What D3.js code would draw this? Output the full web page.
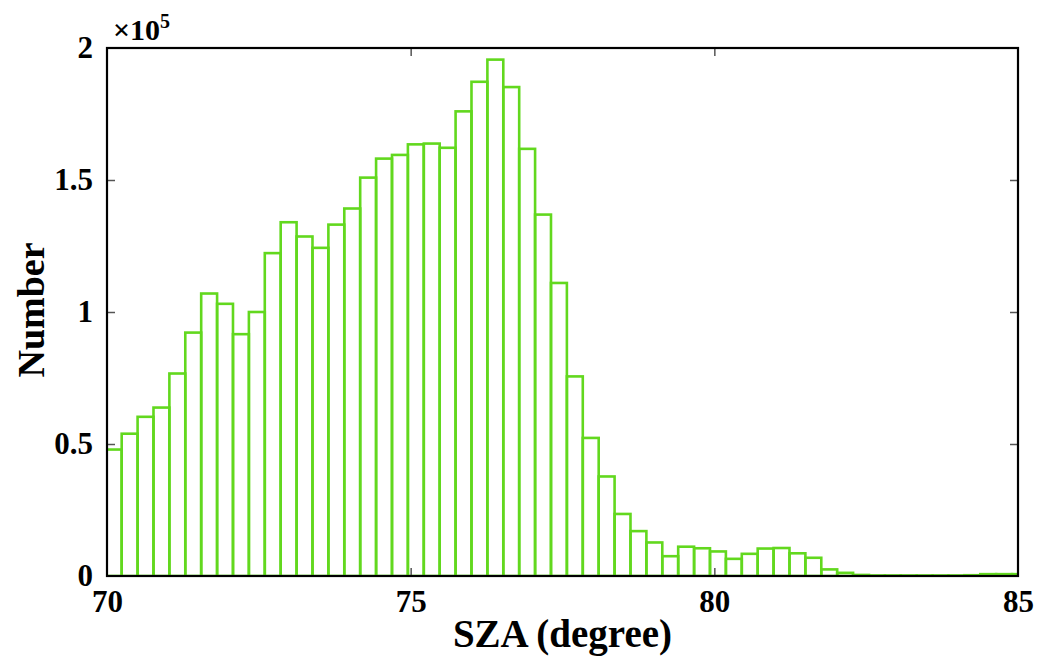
<!DOCTYPE html>
<html>
<head>
<meta charset="utf-8">
<script src="https://cdn.jsdelivr.net/npm/d3@7"></script>
<style>
  html, body { margin: 0; padding: 0; background: #fff; }
  svg { display: block; }
  text { font-family: "Liberation Serif", "Times New Roman", serif; font-weight: bold; fill: #000; }
</style>
</head>
<body>
<svg id="chart" width="1051" height="657"></svg>
<script>
// ---- data ----
const binStart = 69.98;        // left edge of first bin (degree)
const binWidth = 0.2618;       // bin width (degree)
const counts = [
  0.479, 0.539, 0.603, 0.638, 0.767, 0.922, 1.070, 1.031, 0.916, 1.000,
  1.223, 1.340, 1.286, 1.243, 1.331, 1.392, 1.509, 1.581, 1.595, 1.635,
  1.638, 1.622, 1.760, 1.872, 1.956, 1.852, 1.618, 1.369, 1.110, 0.756,
  0.523, 0.377, 0.235, 0.170, 0.127, 0.075, 0.111, 0.105, 0.093, 0.065,
  0.084, 0.104, 0.106, 0.086, 0.069, 0.025, 0.012, 0.004, 0.002, 0.002,
  0.002, 0.002, 0.002, 0.002, 0.003, 0.007, 0.007, 0.007
].map(v => v * 1e5);
const xTicks = [70, 75, 80, 85];
const yTicks = [0, 0.5e5, 1e5, 1.5e5, 2e5];
const yTickLabels = ["0", "0.5", "1", "1.5", "2"];
const xLabel = "SZA (degree)";
const yLabel = "Number";

// ---- layout ----
const L = 107, R = 1018, T = 48, B = 576;
const svg = d3.select("#chart");
const x = d3.scaleLinear().domain([70, 85]).range([L, R]);
const y = d3.scaleLinear().domain([0, 2e5]).range([B, T]);

const bins = counts.map((c, i) => ({ x0: binStart + i * binWidth, x1: binStart + (i + 1) * binWidth, c }));

svg.append("defs").append("clipPath").attr("id", "plotclip")
  .append("rect").attr("x", L).attr("y", T).attr("width", R - L).attr("height", B - T);

// bars
svg.append("g").attr("clip-path", "url(#plotclip)")
  .selectAll("rect").data(bins).join("rect")
  .attr("x", d => x(d.x0))
  .attr("y", d => y(d.c))
  .attr("width", d => x(d.x1) - x(d.x0))
  .attr("height", d => y(0) - y(d.c))
  .attr("fill", "none")
  .attr("stroke", "#62d81e")
  .attr("stroke-width", 2.6);

// axes
const fmt = d => yTickLabels[yTicks.indexOf(d)];
const gx = svg.append("g").attr("transform", `translate(0,${B})`)
  .call(d3.axisBottom(x).tickValues(xTicks).tickSizeInner(-8).tickSizeOuter(0).tickPadding(14).tickFormat(d3.format("d")));
const gy = svg.append("g").attr("transform", `translate(${L},0)`)
  .call(d3.axisLeft(y).tickValues(yTicks).tickSizeInner(-8).tickSizeOuter(0).tickPadding(14).tickFormat(fmt));
const gr = svg.append("g").attr("transform", `translate(${R},0)`)
  .call(d3.axisRight(y).tickValues(yTicks).tickSizeInner(-8).tickSizeOuter(0).tickFormat(""));
const gt = svg.append("g").attr("transform", `translate(0,${T})`)
  .call(d3.axisTop(x).tickValues(xTicks).tickSizeInner(-8).tickSizeOuter(0).tickFormat(""));

[gx, gy, gr, gt].forEach(g => {
  g.select(".domain").remove();
  g.selectAll(".tick line").attr("stroke", "#555").attr("stroke-width", 1.5);
  g.selectAll(".tick text").attr("font-size", 31).attr("font-family", "Liberation Serif, Times New Roman, serif").attr("font-weight", "bold");
});
// hide ticks that coincide with the frame
[gx, gt].forEach(g => g.selectAll(".tick").filter(d => d === 70 || d === 85).select("line").remove());
[gy, gr].forEach(g => g.selectAll(".tick").filter(d => d === 0 || d === 2e5).select("line").remove());

// frame
svg.append("rect").attr("x", L).attr("y", T).attr("width", R - L).attr("height", B - T)
  .attr("fill", "none").attr("stroke", "#000").attr("stroke-width", 2.2);

// exponent
const ex = svg.append("text").attr("x", 113).attr("y", 40).attr("font-size", 30);
ex.append("tspan").text("×10");
ex.append("tspan").attr("font-size", 20).attr("dy", -12).text("5");

// axis labels
svg.append("text").attr("x", (L + R) / 2).attr("y", 647).attr("text-anchor", "middle")
  .attr("font-size", 39).text(xLabel);
svg.append("text").attr("transform", `translate(44,${(T + B) / 2 - 2}) rotate(-90)`)
  .attr("text-anchor", "middle").attr("font-size", 38).text(yLabel);
</script>
</body>
</html>
